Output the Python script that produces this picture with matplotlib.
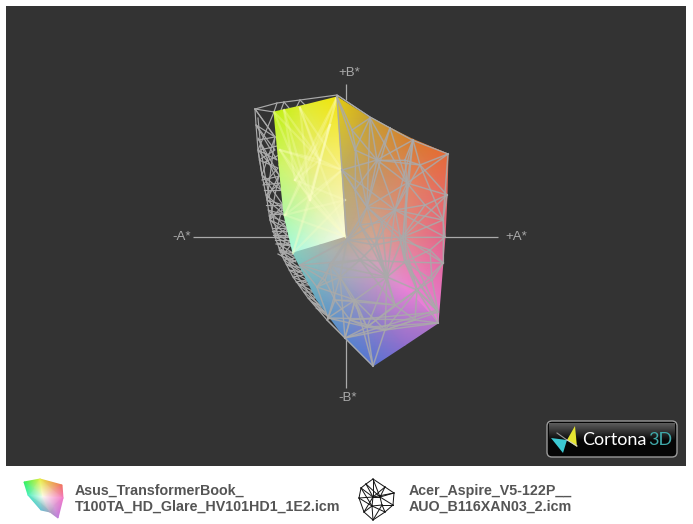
import numpy as np
import matplotlib
matplotlib.use("Agg")
import matplotlib.pyplot as plt
from matplotlib.patches import Polygon, Rectangle, FancyBboxPatch

# Грани цветового охвата (узлы и цвета)
left_xy = [[(274, 112), (305, 105), (337, 97)],
           [(279, 165), (311, 168), (342, 170)],
           [(284, 215), (315, 212), (345, 210)],
           [(293, 253), (320, 245), (346, 237)]]
left_rgb = [[(190, 242, 20), (225, 235, 50), (242, 228, 10)],
            [(205, 245, 105), (232, 238, 125), (250, 240, 135)],
            [(178, 248, 165), (222, 246, 175), (248, 245, 190)],
            [(165, 248, 228), (215, 248, 220), (250, 250, 230)]]

right_xy = [[(337, 97), (370, 118), (412, 139), (448, 154)],
            [(342, 170), (372, 175), (412, 180), (447, 195)],
            [(346, 237), (375, 240), (412, 237), (445, 237)],
            [(346, 237), (375, 262), (408, 290), (438, 323)]]
right_rgb = [[(228, 205, 15), (200, 160, 50), (215, 125, 45), (232, 105, 55)],
             [(188, 172, 100), (195, 150, 100), (225, 130, 95), (232, 105, 100)],
             [(185, 170, 145), (212, 165, 150), (228, 130, 135), (228, 100, 135)],
             [(185, 170, 145), (205, 165, 185), (236, 130, 215), (230, 125, 222)]]

bottom_xy = [[(293, 253), (320, 245), (346, 237)],
             [(317, 300), (346, 281), (375, 262)],
             [(345, 338), (376, 314), (408, 290)],
             [(373, 366), (405, 345), (438, 323)]]
bottom_rgb = [[(130, 205, 190), (165, 185, 175), (185, 170, 145)],
              [(100, 165, 195), (160, 165, 190), (205, 165, 185)],
              [(90, 135, 205), (155, 130, 200), (236, 130, 215)],
              [(85, 115, 210), (145, 110, 205), (185, 120, 200)]]

# Каркас второго профиля: внешняя оболочка и полоса слева
wire_outline = [(255, 109), (277, 103), (300, 100), (337, 95), (370, 117), (390, 128),
                (412, 140), (448, 154)]
wire_outer = [(255, 109), (256, 125), (258, 150), (262, 175), (267, 200), (270, 220),
              (275, 237), (282, 256), (293, 277), (308, 298), (327, 320), (345, 338), (373, 366)]
wire_inner = [(258, 118), (261, 150), (265, 175), (270, 200), (274, 222), (279, 238),
              (285, 254), (296, 274), (311, 296), (330, 318)]
wire_band = [(255, 109), (275, 137), (256, 125), (277, 160), (258, 150), (279, 175), (258, 138),
             (281, 190), (262, 175), (283, 205), (267, 200), (285, 215), (268, 210), (287, 228),
             (270, 220), (289, 237), (275, 237), (291, 245), (277, 243), (293, 253), (279, 250),
             (296, 262), (282, 256), (300, 268), (286, 264), (304, 275), (293, 277), (311, 285),
             (299, 285), (316, 298), (308, 298), (325, 312), (316, 308), (330, 318), (327, 320)]
wire_band2 = [(255, 109), (274, 112), (258, 150), (262, 175), (275, 137), (267, 200), (279, 175),
              (270, 220), (283, 205), (275, 237), (287, 228), (282, 256), (291, 245)]
wire_band3 = [(256, 125), (275, 150), (259, 160), (278, 168), (263, 185), (280, 183), (266, 195),
              (284, 210), (269, 216), (286, 222), (273, 232), (290, 242), (279, 248), (295, 258),
              (284, 260), (302, 272), (289, 270), (307, 280), (296, 282), (314, 292), (304, 292),
              (321, 306), (312, 302), (328, 316)]
wire_bars = [[(272, 228), (288, 228)], [(273, 235), (290, 235)], [(275, 240), (291, 240)],
             [(264, 190), (282, 190)], [(270, 214), (285, 214)], [(280, 252), (295, 255)],
             [(263, 163), (279, 155)], [(258, 140), (275, 137)], [(274, 112), (277, 103)],
             [(300, 100), (296, 108)], [(300, 100), (305, 105)], [(284, 102), (281, 110)],
             [(284, 102), (289, 108)], [(255, 109), (275, 137)], [(287, 265), (300, 258)],
             [(294, 275), (306, 268)], [(300, 285), (312, 278)], [(272, 231), (289, 231)],
             [(274, 237), (292, 237)], [(276, 244), (292, 246)], [(266, 205), (283, 205)],
             [(262, 180), (280, 176)], [(260, 150), (277, 146)], [(278, 254), (293, 262)]]

# Опорные узлы сетки на правой и нижней гранях
hub_x = [337, 370, 390, 413, 448, 447, 445, 443, 438, 438, 373, 345, 328, 377, 407, 367, 443,
         403, 347, 417, 367, 340, 387, 317, 437, 342, 352, 395, 420, 355, 300, 385, 405,
         355, 360, 375, 425, 430, 360, 330, 395, 415, 335, 325, 350, 400, 382, 432, 405, 355]
hub_y = [97, 118, 128, 140, 154, 195, 237, 263, 312, 323, 366, 338, 318, 160, 183, 207, 220,
         237, 240, 290, 327, 277, 277, 287, 310, 170, 130, 210, 165, 300, 265, 330, 262,
         190, 225, 245, 205, 250, 260, 265, 305, 320, 300, 280, 320, 240, 222, 280, 160, 150]
hub_edges = [(0, 25), (0, 26), (26, 13), (26, 15), (1, 13), (1, 26), (1, 15), (2, 13), (2, 14),
             (2, 15), (3, 13), (3, 14), (3, 27), (3, 28), (4, 14), (4, 28), (4, 16), (5, 14),
             (5, 16), (5, 28), (5, 17), (6, 16), (6, 17), (6, 27), (7, 17), (7, 19), (7, 16),
             (8, 19), (8, 17), (9, 19), (9, 24), (10, 20), (10, 31), (9, 31), (9, 20), (11, 20),
             (11, 21), (11, 29), (12, 20), (12, 21), (12, 29), (13, 14), (13, 15), (14, 15),
             (14, 17), (14, 27), (15, 27), (15, 18), (15, 25), (15, 17), (16, 17), (16, 27),
             (17, 18), (17, 19), (17, 22), (17, 32), (18, 21), (18, 22), (18, 23), (18, 25),
             (19, 22), (19, 20), (19, 31), (19, 32), (20, 21), (20, 22), (20, 29), (20, 31),
             (21, 22), (21, 23), (21, 29), (22, 29), (22, 32), (22, 31), (23, 29), (23, 30),
             (23, 12), (24, 19), (24, 32), (25, 13), (25, 27), (27, 32), (27, 22), (28, 13),
             (28, 27), (28, 16), (29, 31), (30, 21), (30, 18), (32, 7), (32, 24), (13, 27),
             (31, 8), (31, 11), (10, 29), (18, 27), (15, 22), (14, 32), (3, 17), (1, 14),
             (33, 13), (33, 15), (33, 25), (33, 34), (33, 49), (49, 0), (49, 1), (49, 13),
             (34, 18), (34, 35), (34, 15), (34, 46), (35, 18), (35, 45), (35, 46), (35, 38),
             (35, 22), (36, 5), (36, 16), (36, 14), (36, 45), (36, 27), (37, 6), (37, 7), (37, 45),
             (37, 47), (37, 32), (38, 18), (38, 21), (38, 22), (38, 39), (39, 18), (39, 43),
             (39, 21), (39, 42), (40, 19), (40, 20), (40, 22), (40, 41), (40, 29), (41, 9),
             (41, 19), (41, 31), (42, 12), (42, 43), (42, 29), (42, 44), (43, 23), (43, 30),
             (44, 11), (44, 20), (44, 29), (44, 31), (45, 17), (45, 32), (45, 46), (46, 15),
             (46, 27), (47, 7), (47, 8), (47, 19), (47, 32), (48, 3), (48, 13), (48, 14),
             (48, 28), (11, 24), (12, 41), (44, 8), (35, 40), (38, 40), (45, 19), (46, 22),
             (39, 22), (30, 38), (38, 32), (42, 40), (34, 22), (27, 35)]

# Светлые линии, просвечивающие сквозь левую грань
glow_x = [337, 300, 284, 274, 346, 293, 320, 310, 280, 342, 330, 285, 345, 295]
glow_y = [97, 108, 110, 112, 237, 253, 160, 200, 150, 170, 125, 215, 200, 180]
glow_edges = [(0, 6), (0, 7), (1, 6), (1, 7), (1, 4), (2, 6), (2, 7), (3, 6), (8, 9), (8, 6),
              (6, 9), (6, 7), (7, 4), (7, 5), (7, 9), (10, 6), (10, 7), (10, 11), (11, 4),
              (11, 9), (5, 6), (0, 11), (8, 4), (1, 9), (13, 6), (13, 12), (13, 4), (13, 0),
              (13, 10), (8, 7), (11, 12), (5, 12), (2, 13), (3, 7)]

axis_color = "#aaaaaa"
axis_h = [[(193, 237), (285, 237)], [(445, 237), (498, 237)]]
axis_v = [[(346, 84), (346, 100)], [(346, 338), (346, 388)]]
axis_labels = [("+B*", 349, 73), ("-B*", 348, 398), ("-A*", 182, 237), ("+A*", 516, 237)]

legend_names = [["Asus_TransformerBook_", "T100TA_HD_Glare_HV101HD1_1E2.icm"],
                ["Acer_Aspire_V5-122P__", "AUO_B116XAN03_2.icm"]]
legend_text_x = [75, 409]

# Значок первого профиля
icon_xy = [[(24, 482), (40, 479), (62, 485)],
           [(28, 495), (43, 497), (63, 498)],
           [(41, 510), (50, 512), (58, 518)]]
icon_rgb = [[(40, 240, 90), (230, 240, 60), (240, 110, 90)],
            [(70, 240, 190), (255, 255, 245), (245, 120, 200)],
            [(100, 190, 210), (170, 160, 190), (190, 120, 220)]]

# Значок второго профиля
icon2_x = [373, 385, 394, 393, 385, 373, 364, 359, 361, 366, 373, 380, 372, 382]
icon2_y = [479, 487, 493, 505, 512, 520, 512, 498, 488, 484, 497, 497, 506, 505]
icon2_edges = [(0, 1), (1, 2), (2, 3), (3, 4), (4, 5), (5, 6), (6, 7), (7, 8), (8, 9), (9, 0),
               (0, 10), (1, 10), (2, 11), (3, 11), (4, 13), (5, 12), (6, 12), (7, 10), (8, 10),
               (9, 10), (10, 11), (10, 12), (11, 13), (12, 13), (0, 11), (5, 13), (7, 12),
               (2, 10), (3, 13), (6, 10), (1, 11), (4, 12), (8, 12), (9, 11)]


def draw_face(ax, xy, rgb, z):
    xy = np.array(xy, dtype=float)
    c = np.array(rgb, dtype=float) / 255
    ax.pcolormesh(xy[:, :, 0], xy[:, :, 1], c, shading="gouraud", zorder=z)


plt.rcParams["font.family"] = ["Liberation Sans", "DejaVu Sans"]
fig = plt.figure(figsize=(6.93, 5.24), dpi=100, facecolor="white")
ax = fig.add_axes([0, 0, 1, 1])
ax.set_axis_off()

ax.add_patch(Rectangle((6, 6), 680, 460, facecolor="#333333", edgecolor="none", zorder=0))

# Оси
for seg in axis_h + axis_v:
    ax.plot(*zip(*seg), color=axis_color, lw=0.9, zorder=1, solid_capstyle="butt")
for name, x, y in axis_labels:
    ax.text(x, y, name, color=axis_color, fontsize=9.5, ha="center", va="center", zorder=5)

# Каркас позади охвата
for chain in [wire_outline, wire_outer, wire_inner, wire_band, wire_band2, wire_band3] + wire_bars:
    ax.plot(*zip(*chain), color=axis_color, lw=0.85, zorder=2)

# Грани
draw_face(ax, left_xy, left_rgb, 3)
draw_face(ax, right_xy, right_rgb, 3)
draw_face(ax, bottom_xy, bottom_rgb, 3)

for a, b in glow_edges:
    ax.plot([glow_x[a], glow_x[b]], [glow_y[a], glow_y[b]], color="#ffffc8", alpha=0.25, lw=1.6, zorder=4)
for a, b in hub_edges:
    ax.plot([hub_x[a], hub_x[b]], [hub_y[a], hub_y[b]], color=axis_color, lw=1.4, alpha=0.3, zorder=4)
    ax.plot([hub_x[a], hub_x[b]], [hub_y[a], hub_y[b]], color=axis_color, lw=0.85, alpha=0.85, zorder=4)
ax.plot(*zip(*wire_outline[3:]), color=axis_color, lw=0.85, zorder=4)
ax.plot(*zip(*wire_outer[-3:]), color=axis_color, lw=0.85, zorder=4)

# Плашка Cortona3D
ax.add_patch(FancyBboxPatch((550, 424), 124, 30, boxstyle="round,pad=3,rounding_size=5",
                            facecolor="#050505", edgecolor="#9a9a9a", lw=1, zorder=2))
gloss = np.linspace(0.36, 0.04, 20).reshape(-1, 1)
ax.imshow(gloss, extent=(549, 675, 440, 423), cmap="gray", vmin=0, vmax=1, aspect="auto", zorder=3)
ax.add_patch(Polygon([(575, 426), (567, 440), (577, 447)], facecolor="#e6e632", edgecolor="none", zorder=4))
ax.add_patch(Polygon([(551, 438), (567, 440), (563, 453)], facecolor="#3cc8d2", edgecolor="none", zorder=4))
ax.plot([557, 567], [433, 440], color="#999999", lw=0.8, zorder=4)
ax.plot([567, 577], [440, 446], color="#cccccc", lw=0.8, zorder=4)
ax.text(582, 440, "Cortona", color="white", fontsize=13, family="Lato", va="center", ha="left", zorder=5)
ax.text(672, 440, "3D", color="#3fa9aa", fontsize=13, family="Lato", va="center", ha="right", zorder=5)

# Подписи профилей
for x, lines in zip(legend_text_x, legend_names):
    ax.text(x, 491, lines[0], color="#555555", fontsize=10.25, fontweight="bold", va="center", ha="left")
    ax.text(x, 507, lines[1], color="#555555", fontsize=10.25, fontweight="bold", va="center", ha="left")

draw_face(ax, icon_xy, icon_rgb, 3)
for a, b in icon2_edges:
    ax.plot([icon2_x[a], icon2_x[b]], [icon2_y[a], icon2_y[b]], color="#111111", lw=0.7, zorder=3)

ax.set_xlim(0, 693)
ax.set_ylim(524, 0)
fig.savefig("out.png", dpi=100)
